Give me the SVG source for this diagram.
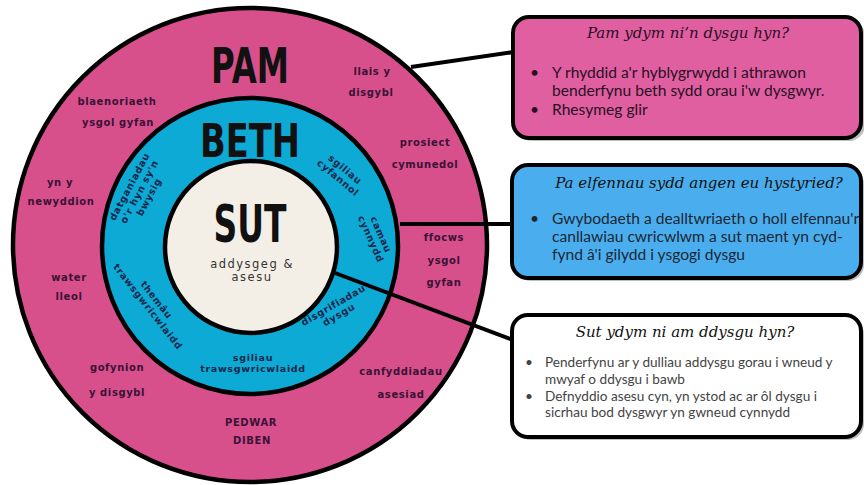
<svg xmlns="http://www.w3.org/2000/svg" width="864" height="485" viewBox="0 0 864 485">
<defs>
<style>
.ring{stroke:#000;stroke-width:4.5}
.head{font-family:"DejaVu Sans","Liberation Sans",sans-serif;font-weight:bold;fill:#111;text-anchor:middle}
.lbl{font-family:"DejaVu Sans","Liberation Sans",sans-serif;font-weight:bold;font-size:10px;letter-spacing:0.6px;fill:#3a1236;text-anchor:middle}
.blbl{font-family:"DejaVu Sans","Liberation Sans",sans-serif;font-weight:bold;font-size:9.5px;letter-spacing:0.7px;fill:#14264a;text-anchor:middle}
.sub{font-family:"DejaVu Sans","Liberation Sans",sans-serif;font-size:11.5px;letter-spacing:1.5px;fill:#333;text-anchor:middle}
.box{stroke:#000;stroke-width:4}
.shadow{fill:#000;opacity:0.25}
.title{font-family:"DejaVu Serif","Liberation Serif",serif;font-style:italic;font-size:15px;text-anchor:middle}
.body{font-family:"Lato","Open Sans",sans-serif;font-size:15.6px}
.body2{font-family:"Lato","Open Sans",sans-serif;font-size:13.6px;fill:#444}
.conn{stroke:#000;stroke-width:4;fill:none}
</style>
</defs>
<rect width="864" height="485" fill="#fff"/>

<g id="ring-pam">
<circle class="ring" cx="250" cy="245" r="237" fill="#d7508c"/>
</g>
<g id="ring-beth">
<circle class="ring" cx="250" cy="246" r="148" fill="#0eaad6"/>
</g>
<g id="ring-sut">
<circle class="ring" cx="251" cy="247" r="86" fill="#f3efe7"/>
</g>

<g id="connectors">
<line class="conn" x1="411" y1="67" x2="514" y2="52"/>
<line class="conn" x1="400" y1="224" x2="513" y2="224"/>
<line class="conn" x1="335" y1="273" x2="513" y2="340"/>
</g>

<g id="labels-pam">
<text class="head" x="250" y="83" font-size="50" textLength="78" lengthAdjust="spacingAndGlyphs">PAM</text>
<text class="lbl" x="372" y="75">llais y</text>
<text class="lbl" x="371" y="96">disgybl</text>
<text class="lbl" x="117" y="105">blaenoriaeth</text>
<text class="lbl" x="118" y="126">ysgol gyfan</text>
<text class="lbl" x="425" y="146">prosiect</text>
<text class="lbl" x="425" y="168">cymunedol</text>
<text class="lbl" x="60" y="186">yn y</text>
<text class="lbl" x="61" y="205">newyddion</text>
<text class="lbl" x="444" y="241">ffocws</text>
<text class="lbl" x="444" y="264">ysgol</text>
<text class="lbl" x="444" y="286">gyfan</text>
<text class="lbl" x="69" y="281">water</text>
<text class="lbl" x="69" y="300">lleol</text>
<text class="lbl" x="117" y="371">gofynion</text>
<text class="lbl" x="117" y="396">y disgybl</text>
<text class="lbl" x="401" y="375">canfyddiadau</text>
<text class="lbl" x="401" y="398">asesiad</text>
<text class="lbl" x="251" y="426">PEDWAR</text>
<text class="lbl" x="252" y="444">DIBEN</text>
</g>

<g id="labels-beth">
<text class="head" x="250" y="157" font-size="47" textLength="100" lengthAdjust="spacingAndGlyphs">BETH</text>
<g transform="translate(343,172) rotate(40)">
<text class="blbl" x="0" y="0">sgiliau</text>
<text class="blbl" x="0" y="11">cyfannol</text>
</g>
<g transform="translate(378,236) rotate(66)">
<text class="blbl" x="0" y="0">camau</text>
<text class="blbl" x="0" y="11">cynnydd</text>
</g>
<g transform="translate(335,308) rotate(-30)">
<text class="blbl" x="0" y="0">disgrifiadau</text>
<text class="blbl" x="0" y="11">dysgu</text>
</g>
<text class="blbl" x="253" y="361">sgiliau</text>
<text class="blbl" x="253" y="372">trawsgwricwlaidd</text>
<g transform="translate(154,302) rotate(52)">
<text class="blbl" x="0" y="0">themâu</text>
<text class="blbl" x="0" y="11">trawsgwricwlaidd</text>
</g>
<g transform="translate(136,190) rotate(-62)">
<text class="blbl" x="0" y="-4">datganiadau</text>
<text class="blbl" x="0" y="7">o'r hyn sy'n</text>
<text class="blbl" x="0" y="18">bwysig</text>
</g>
</g>

<g id="labels-sut">
<text class="head" x="250" y="242" font-size="52" textLength="73" lengthAdjust="spacingAndGlyphs">SUT</text>
<text class="sub" x="252" y="268">addysgeg &amp;</text>
<text class="sub" x="252" y="281">asesu</text>
</g>

<g id="box-pam">
<rect class="shadow" x="516" y="20" width="349" height="121" rx="16"/>
<rect class="box" x="513" y="17" width="348" height="121" rx="16" fill="#df5fa0"/>
<text class="title" x="688" y="38" fill="#2a0f24">Pam ydym ni’n dysgu hyn?</text>
<g class="body" fill="#2a0f24">
<text x="530" y="78">•</text>
<text x="552" y="78">Y rhyddid a'r hyblygrwydd i athrawon</text>
<text x="552" y="96">benderfynu beth sydd orau i'w dysgwyr.</text>
<text x="530" y="115">•</text>
<text x="552" y="115">Rhesymeg glir</text>
</g>
</g>

<g id="box-beth">
<rect class="shadow" x="515" y="168" width="349" height="113" rx="16"/>
<rect class="box" x="512" y="165" width="349" height="113" rx="16" fill="#4aaeee"/>
<text class="title" x="699" y="188" fill="#111">Pa elfennau sydd angen eu hystyried?</text>
<g class="body" fill="#1c2733">
<text x="530" y="224">•</text>
<text x="552" y="224">Gwybodaeth a dealltwriaeth o holl elfennau'r</text>
<text x="552" y="242">canllawiau cwricwlwm a sut maent yn cyd-</text>
<text x="552" y="260">fynd â'i gilydd i ysgogi dysgu</text>
</g>
</g>

<g id="box-sut">
<rect class="shadow" x="515" y="318" width="349" height="122" rx="16"/>
<rect class="box" x="512" y="315" width="349" height="122" rx="16" fill="#ffffff"/>
<text class="title" x="685" y="337" fill="#111">Sut ydym ni am ddysgu hyn?</text>
<g class="body2">
<text x="525" y="367">•</text>
<text x="545" y="367">Penderfynu ar y dulliau addysgu gorau i wneud y</text>
<text x="545" y="384">mwyaf o ddysgu i bawb</text>
<text x="525" y="401">•</text>
<text x="545" y="401">Defnyddio asesu cyn, yn ystod ac ar ôl dysgu i</text>
<text x="545" y="417">sicrhau bod dysgwyr yn gwneud cynnydd</text>
</g>
</g>
</svg>
